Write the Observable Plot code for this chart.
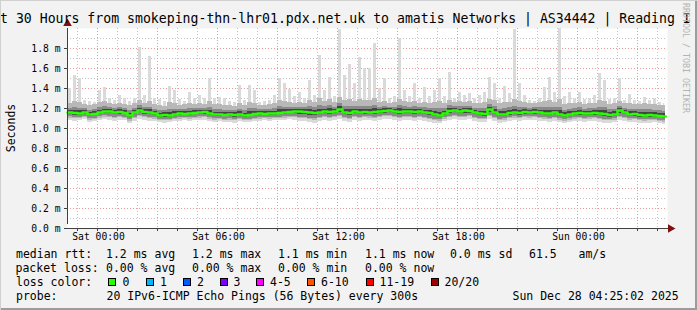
<!DOCTYPE html>
<html>
<head>
<meta charset="utf-8">
<script src="https://cdn.jsdelivr.net/npm/d3@7"></script>
<script src="https://cdn.jsdelivr.net/npm/@observablehq/plot@0.6"></script>
<style>
  html, body { margin: 0; padding: 0; background: #f2f2f2; }
  #wrap { position: relative; width: 697px; height: 310px; background: #f2f2f2; overflow: hidden;
          font-family: "DejaVu Sans Mono", monospace; color: #000; }
  #chart { position: absolute; left: 0; top: 0; }
  .t { position: absolute; white-space: pre; line-height: normal; }
  .box { position: absolute; width: 8px; height: 8px; box-sizing: border-box; border: 1px solid #000; }
</style>
</head>
<body>
<div id="wrap">
  <div id="chart"></div>
</div>
<script>
// ---- data (15-minute bins starting Fri 22:30 UTC) ----
const binStart = Date.UTC(2025, 11, 26, 22, 30);
const binMinutes = 15;
const domainEnd = Date.UTC(2025, 11, 28, 4, 30);
const dataEnd = Date.UTC(2025, 11, 28, 4, 25);

// values in ms ("m" on the axis)
const maxRtt = [
  1.40,1.53,1.50,1.28,1.27,1.26,1.38,1.41,1.30,1.28,1.33,1.30,1.27,1.30,1.81,1.33,1.72,1.30,1.29,1.27,1.42,1.38,1.29,1.27,1.36,1.30,1.33,1.30,1.50,1.30,
  1.31,1.30,1.27,1.26,1.43,1.28,1.43,1.38,1.26,1.27,1.28,1.33,1.50,1.45,1.39,1.32,1.36,1.30,1.48,1.33,1.73,1.38,1.51,1.32,1.99,1.53,1.64,1.45,1.71,1.60,
  1.60,1.85,1.40,1.50,1.30,1.32,1.90,1.38,1.32,1.45,1.30,1.41,1.32,1.38,1.50,1.32,1.56,1.30,1.36,1.33,1.35,1.30,1.33,1.36,1.51,1.45,1.30,1.42,1.35,1.99,
  1.45,1.33,1.28,1.27,1.30,1.41,1.51,1.36,2.00,1.32,1.36,1.30,1.36,1.29,1.30,1.33,1.55,1.48,1.29,1.30,1.50,1.28,1.34,1.28,1.27,1.31,1.28,1.30,1.26,1.25
];
const upperRtt = [
  1.25,1.27,1.26,1.24,1.23,1.24,1.26,1.27,1.25,1.24,1.25,1.24,1.23,1.25,1.28,1.25,1.27,1.24,1.23,1.22,1.26,1.25,1.23,1.24,1.25,1.24,1.25,1.24,1.27,1.24,
  1.24,1.23,1.23,1.22,1.25,1.23,1.26,1.25,1.23,1.23,1.24,1.25,1.28,1.27,1.26,1.25,1.26,1.25,1.28,1.26,1.30,1.27,1.29,1.26,1.31,1.28,1.29,1.27,1.29,1.28,
  1.28,1.30,1.26,1.27,1.25,1.26,1.29,1.27,1.26,1.27,1.25,1.26,1.25,1.26,1.27,1.25,1.28,1.26,1.27,1.26,1.27,1.25,1.25,1.26,1.29,1.28,1.25,1.26,1.26,1.29,
  1.27,1.26,1.25,1.25,1.26,1.27,1.28,1.26,1.29,1.24,1.25,1.25,1.26,1.24,1.25,1.25,1.28,1.27,1.24,1.25,1.27,1.25,1.25,1.24,1.24,1.25,1.24,1.24,1.23,1.23
];
const medianRtt = [
  1.160,1.155,1.150,1.160,1.140,1.145,1.160,1.170,1.170,1.160,1.165,1.155,1.130,1.160,1.180,1.165,1.160,1.150,1.130,1.135,1.130,1.140,1.150,1.145,1.150,1.155,1.160,1.165,1.150,1.140,
  1.140,1.135,1.140,1.135,1.140,1.130,1.135,1.145,1.150,1.145,1.150,1.150,1.155,1.160,1.165,1.170,1.170,1.165,1.160,1.155,1.160,1.170,1.165,1.170,1.190,1.160,1.155,1.170,1.160,1.165,
  1.160,1.165,1.170,1.175,1.180,1.170,1.165,1.170,1.170,1.165,1.170,1.160,1.155,1.140,1.130,1.150,1.175,1.180,1.170,1.180,1.175,1.160,1.150,1.145,1.190,1.160,1.140,1.140,1.155,1.160,
  1.155,1.165,1.160,1.165,1.160,1.150,1.150,1.160,1.140,1.130,1.140,1.150,1.155,1.150,1.150,1.155,1.150,1.145,1.135,1.140,1.180,1.160,1.140,1.145,1.135,1.130,1.135,1.130,1.125,1.120
];
const minRtt = [
  1.08,1.07,1.08,1.09,1.06,1.07,1.08,1.09,1.08,1.07,1.08,1.08,1.05,1.07,1.09,1.08,1.07,1.07,1.06,1.05,1.06,1.07,1.07,1.08,1.07,1.08,1.08,1.08,1.07,1.06,
  1.07,1.06,1.06,1.05,1.07,1.06,1.06,1.07,1.07,1.08,1.07,1.08,1.08,1.08,1.09,1.08,1.07,1.07,1.06,1.05,1.07,1.08,1.07,1.08,1.09,1.07,1.06,1.08,1.07,1.08,
  1.08,1.07,1.08,1.09,1.09,1.08,1.07,1.08,1.08,1.07,1.08,1.07,1.06,1.05,1.05,1.07,1.08,1.09,1.08,1.08,1.09,1.07,1.06,1.06,1.09,1.07,1.05,1.06,1.07,1.08,
  1.07,1.08,1.08,1.08,1.07,1.07,1.06,1.07,1.06,1.05,1.06,1.07,1.07,1.06,1.07,1.07,1.06,1.05,1.05,1.06,1.08,1.07,1.06,1.06,1.05,1.05,1.05,1.06,1.05,1.04
];

const yTickValues = [0, 0.2, 0.4, 0.6, 0.8, 1.0, 1.2, 1.4, 1.6, 1.8];
const yMinorValues = [0.1, 0.3, 0.5, 0.7, 0.9, 1.1, 1.3, 1.5, 1.7, 1.9];
const xLabelTimes = [Date.UTC(2025,11,27,0), Date.UTC(2025,11,27,6), Date.UTC(2025,11,27,12), Date.UTC(2025,11,27,18), Date.UTC(2025,11,28,0)];

const titleText = "t 30 Hours from smokeping-thn-lhr01.pdx.net.uk to amatis Networks | AS34442 | Reading I";
const yLabel = "Seconds";
const watermark = "RRDTOOL / TOBI OETIKER";
const legendLines = [
  [[16, "median rtt:"], [106, "1.2 ms avg"], [192, "1.2 ms max"], [278, "1.1 ms min"], [365, "1.1 ms now"], [450, "0.0 ms sd"], [529, "61.5"], [578.5, "am/s"]],
  [[15.5, "packet loss:"], [106, "0.00 % avg"], [192, "0.00 % max"], [278, "0.00 % min"], [365, "0.00 % now"]],
  [[16, "loss color:"]],
  [[16, "probe:"], [106.5, "20 IPv6-ICMP Echo Pings (56 Bytes) every 300s"], [512.5, "Sun Dec 28 04:25:02 2025"]]
];
const lossLabels = ["0", "1", "2", "3", "4-5", "6-10", "11-19", "20/20"];
const lossColors = ["#26ff00", "#00b8ff", "#0059ff", "#7e00ff", "#ff00ff", "#ff5500", "#ff0000", "#a10000"];
const lossBoxX = [108, 145.5, 182.5, 219.5, 256, 307, 365.5, 430.5];
const lossLabelX = [122.5, 160, 197, 233.5, 270, 321, 379.5, 444.5];

// ---- build table ----
const stepMs = binMinutes * 60 * 1000;
const bins = medianRtt.map((m, i) => {
  const t1 = binStart + i * stepMs;
  const t2 = Math.min(t1 + stepMs, dataEnd);
  const mn = minRtt[i], up = upperRtt[i];
  return {
    x1: new Date(t1), x2: new Date(t2),
    min: mn, max: maxRtt[i], upper: up, median: m,
    midLo: mn + 0.3 * (m - mn),
    darkLo: m - 0.55 * (m - mn), darkHi: m + 0.5 * (up - m),
    deepLo: m - 0.25 * (m - mn), deepHi: m + 0.25 * (up - m)
  };
});
const medianLine = bins.map(d => ({t: d.x1, v: d.median}));
medianLine.push({t: bins[bins.length - 1].x2, v: bins[bins.length - 1].median});

const hourTicks = [];
for (let t = Date.UTC(2025,11,26,23); t < domainEnd; t += 3600000) hourTicks.push(new Date(t));
const majorX = hourTicks.filter(d => d.getUTCHours() % 3 === 0);
const minorX = hourTicks.filter(d => d.getUTCHours() % 3 !== 0);
const days = ["Sun","Mon","Tue","Wed","Thu","Fri","Sat"];
const fmtX = d => days[d.getUTCDay()] + " " + String(d.getUTCHours()).padStart(2, "0") + ":00";

const x0 = new Date(binStart), x1 = new Date(domainEnd);

const chart = Plot.plot({
  width: 697, height: 245,
  marginLeft: 67, marginRight: 30, marginTop: 28, marginBottom: 17,
  style: { fontFamily: "'DejaVu Sans Mono', monospace", fontSize: "9.7px", background: "transparent", color: "#000", overflow: "visible" },
  x: { type: "utc", domain: [x0, x1] },
  y: { domain: [0, 2] },
  marks: [
    Plot.frame({ fill: "white", stroke: null }),
    Plot.gridY(yMinorValues, { stroke: "#c4c4c4", strokeOpacity: 1, strokeDasharray: "1,2" }),
    Plot.gridX(minorX, { stroke: "#c4c4c4", strokeOpacity: 1, strokeDasharray: "1,2" }),
    Plot.gridY(yTickValues.filter(v => v > 0), { stroke: "#e89a9a", strokeOpacity: 1, strokeDasharray: "1,2" }),
    Plot.gridX(majorX, { stroke: "#e89a9a", strokeOpacity: 1, strokeDasharray: "1,2" }),
    Plot.rect(bins, { x1: "x1", x2: "x2", y1: "upper", y2: "max", fill: "#dadada", insetLeft: 1, insetRight: 1.5, shapeRendering: "crispEdges" }),
    Plot.rect(bins, { x1: "x1", x2: "x2", y1: "min", y2: "upper", fill: "#dadada", shapeRendering: "crispEdges" }),
    Plot.rect(bins, { x1: "x1", x2: "x2", y1: "midLo", y2: "upper", fill: "#b8b8b8", shapeRendering: "crispEdges" }),
    Plot.rect(bins, { x1: "x1", x2: "x2", y1: "darkLo", y2: "darkHi", fill: "#8a8a8a", shapeRendering: "crispEdges" }),
    Plot.rect(bins, { x1: "x1", x2: "x2", y1: "deepLo", y2: "deepHi", fill: "#444444", shapeRendering: "crispEdges" }),
    Plot.line(medianLine, { x: "t", y: "v", stroke: lossColors[0], strokeWidth: 2.5, curve: "step-after" }),
    Plot.axisY({ ticks: yTickValues, tickFormat: v => v.toFixed(1) + " m", tickSize: 3, tickPadding: 4, stroke: "#404040" }),
    Plot.axisX({ ticks: hourTicks, tickFormat: () => "", tickSize: 3, stroke: "#404040" }),
    Plot.axisX({ ticks: xLabelTimes.map(t => new Date(t)), tickFormat: fmtX, tickSize: 0, tickPadding: 5, dx: 1 }),
    Plot.ruleX([x0], { y1: 0, y2: 2, stroke: "#404040", insetTop: -4 }),
    Plot.ruleY([0], { x1: x0, x2: x1, stroke: "#404040", insetRight: -3 }),
    Plot.dot([{ x: x0, y: 2 }], { x: "x", y: "y", symbol: "triangle", r: 3.2, fill: "#7f1010", stroke: null, dy: -5 }),
    Plot.dot([{ x: x1, y: 0 }], { x: "x", y: "y", symbol: "triangle", r: 3.2, fill: "#7f1010", stroke: null, rotate: 90, dx: 3 })
  ]
});
document.getElementById("chart").appendChild(chart);

// ---- surrounding texts ----
const wrap = document.getElementById("wrap");
function addText(txt, left, baseline, size, extra) {
  const el = document.createElement("div");
  el.className = "t";
  el.textContent = txt;
  el.style.left = left + "px";
  el.style.top = (baseline - 0.928 * size) + "px";
  el.style.fontSize = size + "px";
  if (extra) Object.assign(el.style, extra);
  wrap.appendChild(el);
  return el;
}
addText(titleText, 0, 23.3, 13.2);

const yl = document.createElement("div");
yl.className = "t";
yl.textContent = yLabel;
Object.assign(yl.style, { left: "11px", top: "128px", fontSize: "11.5px", transform: "translate(-50%,-50%) rotate(-90deg)" });
wrap.appendChild(yl);

const wm = document.createElement("div");
wm.className = "t";
wm.textContent = watermark;
Object.assign(wm.style, { left: "681px", top: "3px", fontSize: "8.3px", color: "#b4b4b4", writingMode: "vertical-rl" });
wrap.appendChild(wm);

const baselines = [257.3, 271.7, 285.7, 300];
legendLines.forEach((items, li) => items.forEach(([x, s]) => addText(s, x, baselines[li], 11.5)));
lossLabels.forEach((lab, i) => {
  const b = document.createElement("div");
  b.className = "box";
  Object.assign(b.style, { left: lossBoxX[i] + "px", top: "278px", background: lossColors[i] });
  wrap.appendChild(b);
  addText(lab, lossLabelX[i], baselines[2], 11.5);
});

// frame shading
const shade = (s) => { const e = document.createElement("div"); Object.assign(e.style, { position: "absolute" }, s); wrap.appendChild(e); };
shade({ left: "695px", top: "0px", width: "2px", height: "310px", background: "#9c9c9c" });
shade({ left: "0px", top: "308px", width: "697px", height: "2px", background: "#9c9c9c" });
shade({ left: "0px", top: "0px", width: "697px", height: "1px", background: "#d0d0d0" });
shade({ left: "0px", top: "0px", width: "1px", height: "310px", background: "#d0d0d0" });
</script>
</body>
</html>
